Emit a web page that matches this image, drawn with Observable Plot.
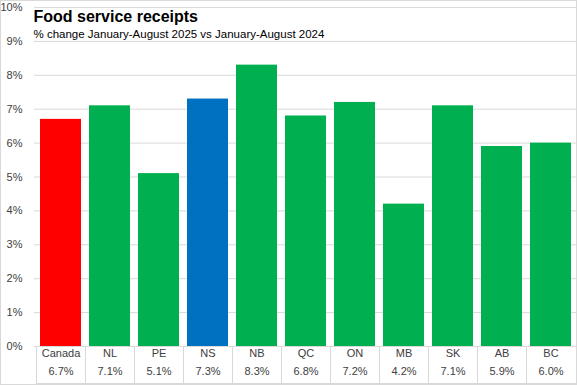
<!DOCTYPE html>
<html>
<head>
<meta charset="utf-8">
<script src="https://cdn.jsdelivr.net/npm/d3@7"></script>
<script src="https://cdn.jsdelivr.net/npm/@observablehq/plot@0.6"></script>
<style>
  html, body { margin: 0; padding: 0; background: #fff; }
  #chart svg { display: block; outline: 1px solid #d9d9d9; outline-offset: -1px; }
</style>
</head>
<body>
<div id="chart"></div>
<script>
const categories = ["Canada", "NL", "PE", "NS", "NB", "QC", "ON", "MB", "SK", "AB", "BC"];
const values = [6.7, 7.1, 5.1, 7.3, 8.3, 6.8, 7.2, 4.2, 7.1, 5.9, 6.0];
const valueLabels = ["6.7%", "7.1%", "5.1%", "7.3%", "8.3%", "6.8%", "7.2%", "4.2%", "7.1%", "5.9%", "6.0%"];
const barColors = ["#FF0000", "#00B050", "#00B050", "#0070C0", "#00B050", "#00B050", "#00B050", "#00B050", "#00B050", "#00B050", "#00B050"];
const yTicks = [0, 1, 2, 3, 4, 5, 6, 7, 8, 9, 10];
const title = "Food service receipts";
const subtitle = "% change January-August 2025 vs January-August 2024";

const data = categories.map((c, i) => ({cat: c, value: values[i], color: barColors[i], label: valueLabels[i]}));

const FONT = "Liberation Sans, Arial, sans-serif";
const TEXT = "#404040";
const LINE = "#d9d9d9";

// table lines under the chart, using the band scale
function tableLines(index, scales, vals, dims) {
  const x = scales.x;
  const bw = typeof x.bandwidth === "function" ? x.bandwidth() : x.bandwidth;
  const step = x(categories[1]) - x(categories[0]);
  const gap = step - bw;
  const y0 = dims.height - dims.marginBottom;
  const y1 = dims.height - 2;
  const g = d3.create("svg:g").attr("stroke", LINE).attr("stroke-width", 1).attr("fill", "none");
  const edges = categories.map(c => x(c) - gap / 2);
  edges.forEach(e => {
    g.append("line").attr("x1", Math.round(e) + 0.5).attr("x2", Math.round(e) + 0.5).attr("y1", y0).attr("y2", y1);
  });
  const left = edges[0];
  g.append("line").attr("x1", Math.round(left)).attr("x2", dims.width).attr("y1", y1 + 0.5).attr("y2", y1 + 0.5);
  return g.node();
}

const chart = Plot.plot({
  width: 577,
  height: 385,
  marginLeft: 34,
  marginRight: 0,
  marginTop: 7,
  marginBottom: 39,
  style: {fontFamily: FONT, fontSize: "11px", color: TEXT, background: "#fff"},
  x: {domain: categories, paddingInner: 0.155, paddingOuter: 0.0775, axis: null},
  y: {domain: [0, 10], axis: null},
  marks: [
    Plot.ruleY(yTicks, {y: d => d, stroke: LINE, strokeWidth: 1}),
    Plot.axisY({ticks: yTicks, tickFormat: d => d + "%", tickSize: 0, tickPadding: 12, fontSize: 11, fill: TEXT, label: null}),
    Plot.barY(data, {x: "cat", y: "value", fill: "color"}),
    Plot.text(data, {x: "cat", text: "cat", frameAnchor: "bottom", dy: 10, fontSize: 11, fill: TEXT, textAnchor: "middle"}),
    Plot.text(data, {x: "cat", text: "label", frameAnchor: "bottom", dy: 28, fontSize: 11, fill: TEXT, textAnchor: "middle"}),
    tableLines,
    Plot.text([title], {text: d => d, frameAnchor: "top-left", dx: -1, dy: 9, fontSize: 16, fontWeight: "bold", fill: "#000", lineAnchor: "middle"}),
    Plot.text([subtitle], {text: d => d, frameAnchor: "top-left", dx: -1, dy: 27, fontSize: 11.5, fill: "#000", lineAnchor: "middle"})
  ]
});

document.getElementById("chart").append(chart);
</script>
</body>
</html>
